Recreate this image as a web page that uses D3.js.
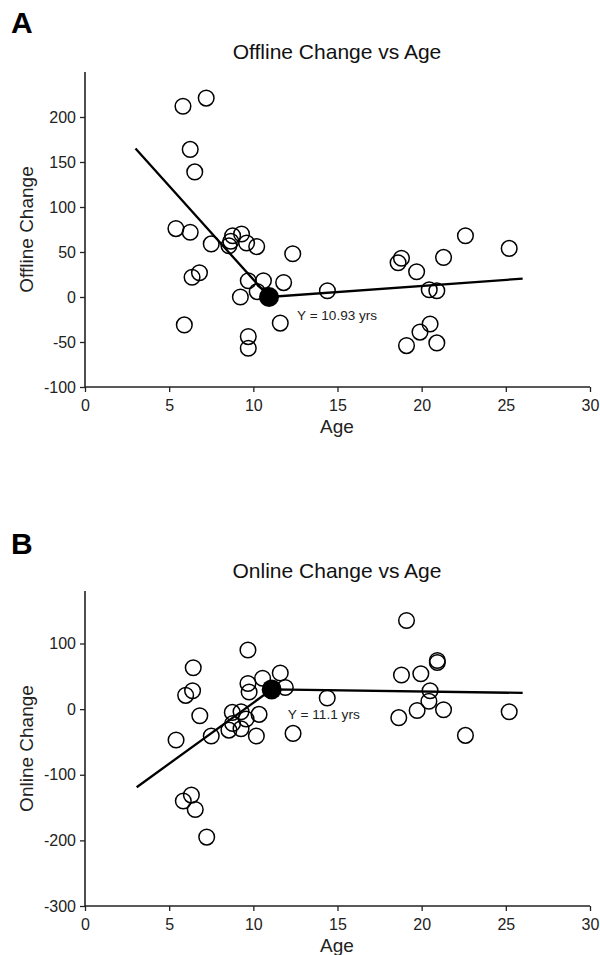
<!DOCTYPE html>
<html>
<head>
<meta charset="utf-8">
<script src="https://cdn.jsdelivr.net/npm/d3@7"></script>
<style>
  body { margin: 0; background: #fff; }
  text { font-family: "Liberation Sans", Arial, sans-serif; fill: #222; }
</style>
</head>
<body>
<div id="chart"></div>
<script>
// offline / online change vs age, two stacked panels

var W = 600, H = 955;

// panel A data
var offAge = [5.4, 6.25, 7.5, 8.55, 8.66, 8.77, 9.3, 9.6, 10.2, 12.34, 6.36, 6.8, 9.23, 9.7, 10.23, 10.6, 11.8, 14.4,
  5.9, 9.7, 9.7, 11.6, 18.6, 18.8, 19.7, 20.45, 20.9, 21.3, 22.6, 25.2, 19.1, 19.9, 20.5, 20.9, 5.82, 7.2, 6.25, 6.52];
var offVal = [76, 72, 59, 57, 62, 68, 70, 60, 56, 48, 22, 27, 0, 18, 6, 18, 16, 7,
  -31, -44, -57, -29, 38, 43, 28, 8, 7, 44, 68, 54, -54, -39, -30, -51, 212, 221, 164, 139];
var offBreak = [10.93, 0];
var offFitX = [3.0, 10.93, 26];
var offFitY = [165, 0, 20.4];
var offTicksY = [-100, -50, 0, 50, 100, 150, 200];

// panel B data
var onAge = [19.1, 9.68, 6.43, 5.98, 6.39, 18.8, 19.95, 20.93, 20.93, 20.5, 20.43, 9.68, 9.75, 10.55, 11.6, 11.9, 14.39,
  6.82, 5.41, 8.75, 9.27, 8.77, 8.55, 9.27, 9.57, 10.34, 7.5, 10.18, 12.36, 18.64, 19.73, 21.3, 22.6, 25.2,
  6.32, 5.84, 6.55, 7.23];
var onVal = [135, 90, 63, 21, 28, 52, 54, 74, 71, 28, 12, 39, 26, 47, 55, 33, 17,
  -10, -47, -5, -4, -22, -32, -30, -15, -8, -41, -41, -37, -13, -2, -1, -40, -4,
  -131, -140, -153, -195];
var onBreak = [11.09, 30];
var onFitX = [3.07, 11.09, 26];
var onFitY = [-119, 30, 24.7];
var onTicksY = [-300, -200, -100, 0, 100];

var ageTicks = [0, 5, 10, 15, 20, 25, 30];

var X0 = 85, X1 = 590;

var svg = d3.select('#chart').append('svg')
  .attr('width', W).attr('height', H);

function panel(opt) {
  var x = d3.scaleLinear().domain([0, 30]).range([X0, X1]);
  var y = d3.scaleLinear().domain(opt.yDomain).range(opt.yRange);
  var g = svg.append('g');
  var plain = function(d) { return String(d) };   // keep ascii hyphen like the original

  g.append('text').text(opt.letter)
    .attr('x', 11).attr('y', opt.letterY)
    .style('font-size', '30px').style('font-weight', 'bold').style('fill', '#000');

  g.append('text').text(opt.title)
    .attr('x', 337).attr('y', opt.titleY)
    .attr('text-anchor', 'middle').style('font-size', '21px').style('fill', '#111');

  var xAxis = g.append('g')
    .attr('transform', 'translate(0,' + opt.yRange[0] + ')')
    .call(d3.axisBottom(x).tickValues(ageTicks).tickFormat(plain).tickSize(5).tickPadding(8));
  var yAxis = g.append('g')
    .attr('transform', 'translate(' + X0 + ',0)')
    .call(d3.axisLeft(y).tickValues(opt.yTicks).tickFormat(plain).tickSize(5).tickPadding(4));

  [xAxis, yAxis].forEach(function(a) {
    a.select('.domain').attr('stroke', '#222').attr('stroke-width', 1.6)
    a.selectAll('.tick line').attr('stroke', '#222').attr('stroke-width', 1.3)
    a.selectAll('.tick text').style('font-size', '16px').style('font-family', '"Liberation Sans", Arial, sans-serif').attr('fill', '#222')
  });
  yAxis.select('.domain').attr('d', 'M0,' + opt.yRange[0] + 'V' + opt.yRange[1]);
  xAxis.select('.domain').attr('d', 'M' + X0 + ',0H' + X1);

  g.append('text').text('Age')
    .attr('x', 337).attr('y', opt.yRange[0] + 46)
    .attr('text-anchor', 'middle').style('font-size', '19px');

  g.append('text').text(opt.ylabel)
    .attr('transform', 'translate(33,' + ((opt.yRange[0] + opt.yRange[1]) / 2) + ') rotate(-90)')
    .attr('text-anchor', 'middle').style('font-size', '19px');

  // fitted segments
  var line = d3.line().x(function(d) { return x(d[0]) }).y(function(d) { return y(d[1]) });
  g.append('path')
    .datum(d3.zip(opt.fitX, opt.fitY))
    .attr('d', line)
    .attr('fill', 'none').attr('stroke', '#000').attr('stroke-width', 2.3);

  g.selectAll('circle.pt')
    .data(d3.zip(opt.ages, opt.vals))
    .enter().append('circle')
    .attr('class', 'pt')
    .attr('cx', function(d) { return x(d[0]) })
    .attr('cy', function(d) { return y(d[1]) })
    .attr('r', 7.8)
    .attr('fill', 'none').attr('stroke', '#000').attr('stroke-width', 1.5);

  g.append('circle')
    .attr('cx', x(opt.brk[0])).attr('cy', y(opt.brk[1]))
    .attr('r', 10).attr('fill', '#000');

  g.append('text').text(opt.note)
    .attr('x', x(opt.noteAt[0])).attr('y', y(opt.noteAt[1]))
    .style('font-size', '13px').attr('textLength', opt.noteLen).attr('lengthAdjust', 'spacingAndGlyphs');
}

panel({
  letter: 'A', letterY: 33, title: 'Offline Change vs Age', titleY: 59,
  yDomain: [-100, 250], yRange: [387, 72], yTicks: offTicksY,
  ylabel: 'Offline Change',
  ages: offAge, vals: offVal, fitX: offFitX, fitY: offFitY, brk: offBreak,
  note: 'Y = 10.93 yrs', noteAt: [12.6, -25], noteLen: 80
});

panel({
  letter: 'B', letterY: 554, title: 'Online Change vs Age', titleY: 578,
  yDomain: [-300, 180], yRange: [906, 591], yTicks: onTicksY,
  ylabel: 'Online Change',
  ages: onAge, vals: onVal, fitX: onFitX, fitY: onFitY, brk: onBreak,
  note: 'Y = 11.1 yrs', noteAt: [12.05, -15], noteLen: 72
});
</script>
</body>
</html>
